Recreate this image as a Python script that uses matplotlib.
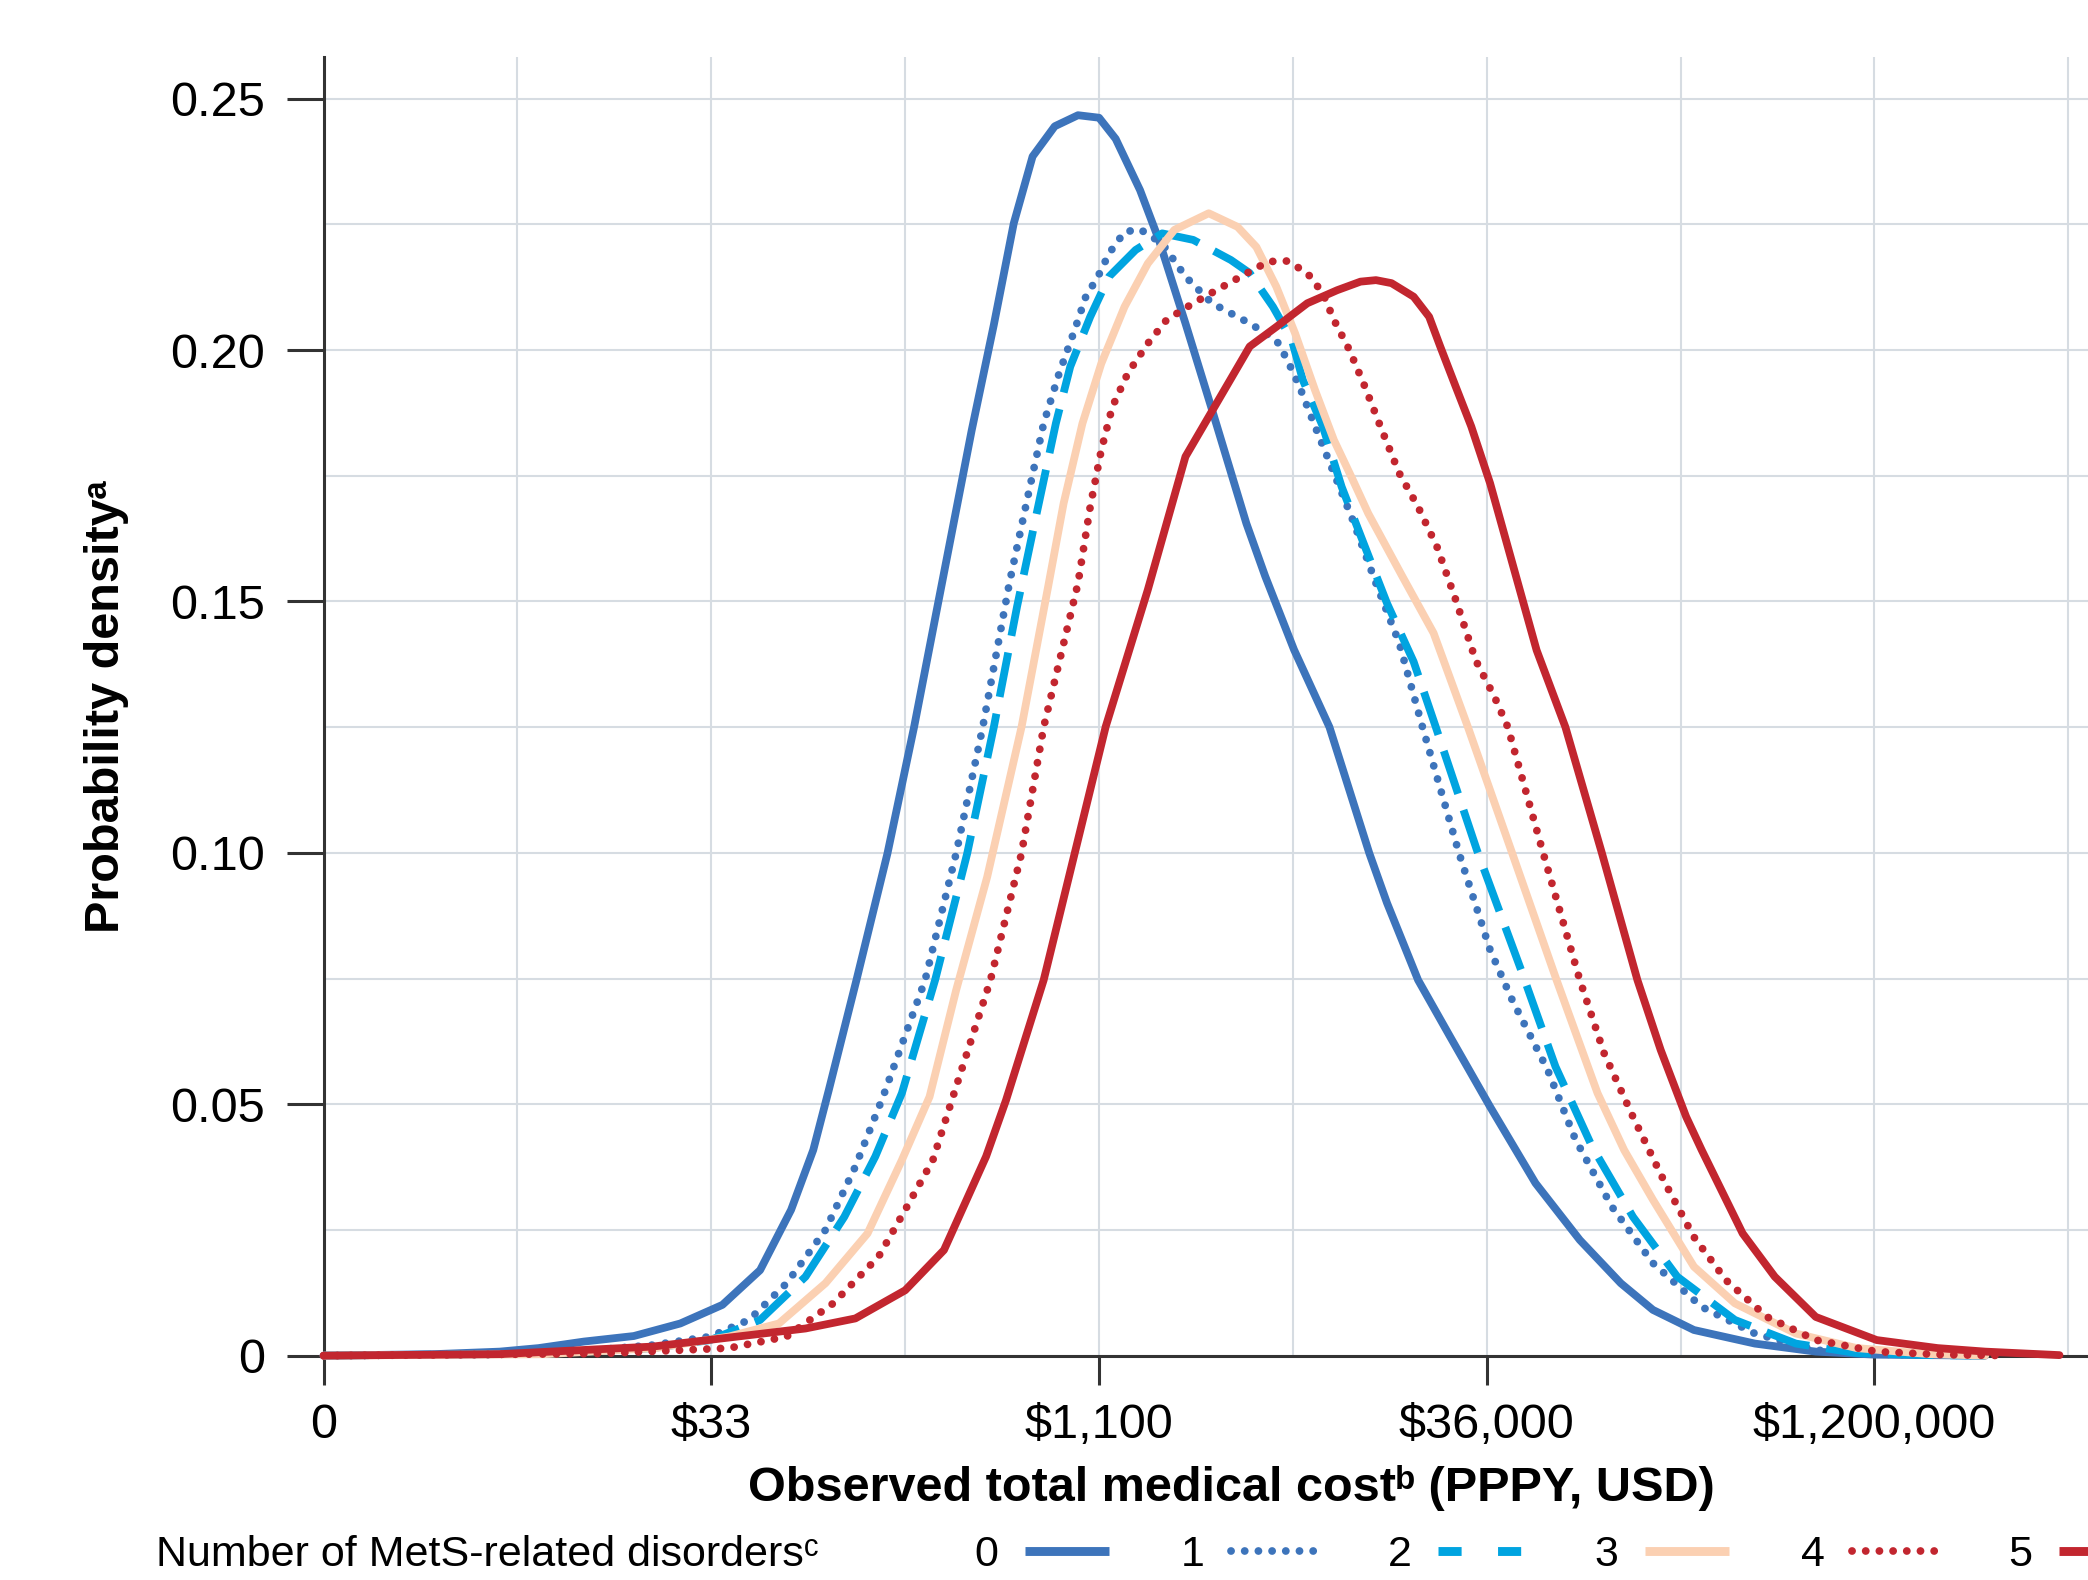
import matplotlib
matplotlib.use('Agg')
import matplotlib.pyplot as plt
from matplotlib.lines import Line2D
from matplotlib.ticker import FixedLocator

plt.rcParams['font.family'] = ['Liberation Sans', 'DejaVu Sans']

# x = ln(cost), y = density
x0 = [0, 1.0, 1.59, 1.94, 2.35, 2.8, 3.22, 3.6, 3.94, 4.22, 4.42, 4.56, 4.81, 5.09, 5.33, 5.55, 5.7, 5.85,
      6.05, 6.23, 6.4, 6.6, 6.81, 7.0, 7.15, 7.37, 7.54, 7.78, 8.02, 8.33, 8.5, 8.76, 9.08, 9.44, 9.6, 9.88,
      10.17, 10.53, 10.94, 11.34, 11.71, 12.0, 12.37, 12.92, 13.47, 14.0, 15.0]
y0 = [0, 0.0003, 0.0008, 0.0015, 0.0028, 0.0039, 0.0064, 0.0101, 0.017, 0.029, 0.0409, 0.0528, 0.0747, 0.0999,
      0.125, 0.150, 0.167, 0.184, 0.205, 0.2252, 0.2385, 0.2445, 0.2467, 0.2462, 0.242, 0.2318, 0.2219, 0.2053,
      0.1881, 0.1655, 0.155, 0.1404, 0.125, 0.0999, 0.09, 0.0747, 0.0634, 0.0495, 0.0343, 0.023, 0.0144, 0.0091,
      0.0051, 0.0024, 0.0008, 0.0002, 0]

x1 = [0, 1.5, 2.28, 2.97, 3.49, 3.84, 4.18, 4.53, 4.8, 5.05, 5.43, 5.71, 5.95, 6.19, 6.37, 6.5, 6.64, 6.78, 6.88,
      6.99, 7.09, 7.23, 7.37, 7.57, 7.78, 8.02, 8.36, 8.6, 8.7, 8.81, 8.95, 9.12, 9.29, 9.5, 9.71, 9.92, 10.25,
      10.53, 10.73, 11.05, 11.3, 11.63, 12.0, 12.44, 12.92, 13.47, 14.0, 15.0]
y1 = [0, 0.0002, 0.0008, 0.0021, 0.0038, 0.0071, 0.0144, 0.025, 0.0376, 0.0515, 0.0747, 0.0999, 0.125, 0.1536,
      0.1722, 0.1854, 0.1954, 0.204, 0.2106, 0.2146, 0.2192, 0.2235, 0.224, 0.2212, 0.2146, 0.2093, 0.2053,
      0.202, 0.198, 0.1927, 0.1848, 0.1755, 0.1662, 0.1536, 0.1417, 0.125, 0.0999, 0.0807, 0.0707, 0.0568,
      0.043, 0.0296, 0.0184, 0.0097, 0.0044, 0.0011, 0.0003, 0]

x2 = [0, 2.0, 2.97, 3.49, 3.94, 4.35, 4.7, 4.98, 5.22, 5.52, 5.81, 6.05, 6.26, 6.43, 6.61, 6.74, 6.92, 7.09, 7.33,
      7.57, 7.85, 8.19, 8.36, 8.57, 8.74, 8.84, 9.02, 9.19, 9.4, 9.6, 9.84, 10.04, 10.41, 10.81, 11.12, 11.45,
      11.82, 12.22, 12.74, 13.29, 13.84, 14.5, 15.0]
y2 = [0, 0.0004, 0.0015, 0.0031, 0.0071, 0.0157, 0.0276, 0.0396, 0.0522, 0.0747, 0.0999, 0.125, 0.149, 0.1668,
      0.1854, 0.1967, 0.2066, 0.2146, 0.2199, 0.2232, 0.2219, 0.2179, 0.2153, 0.2086, 0.202, 0.194, 0.1848,
      0.1728, 0.1609, 0.1496, 0.138, 0.125, 0.1006, 0.0767, 0.0575, 0.0416, 0.0276, 0.0157, 0.0071, 0.0024,
      0.0005, 0.0001, 0]

x3 = [0, 2.0, 3.0, 3.66, 4.11, 4.53, 4.91, 5.22, 5.47, 5.71, 5.99, 6.3, 6.54, 6.68, 6.85, 7.02, 7.23, 7.44, 7.68,
      7.99, 8.25, 8.42, 8.6, 8.77, 8.95, 9.12, 9.29, 9.43, 9.74, 10.02, 10.33, 10.73, 11.13, 11.5, 11.74, 12.0,
      12.37, 12.74, 13.29, 13.84, 14.5, 15.0]
y3 = [0, 0.0003, 0.0015, 0.0038, 0.0064, 0.0144, 0.0243, 0.0389, 0.0515, 0.0727, 0.0952, 0.125, 0.1529, 0.1695,
      0.1854, 0.1973, 0.2086, 0.2172, 0.2239, 0.2272, 0.2245, 0.2205, 0.2126, 0.2033, 0.192, 0.1821, 0.1742,
      0.1675, 0.1549, 0.1437, 0.125, 0.0999, 0.0747, 0.0522, 0.0409, 0.031, 0.0177, 0.0104, 0.0044, 0.0015,
      0.0003, 0]

x4 = [0, 2.5, 3.66, 4.18, 4.6, 5.01, 5.25, 5.5, 5.7, 6.02, 6.3, 6.5, 6.81, 6.92, 7.02, 7.12, 7.26, 7.44, 7.61,
      7.85, 8.06, 8.36, 8.53, 8.7, 8.88, 9.02, 9.12, 9.26, 9.4, 9.54, 9.71, 9.88, 10.05, 10.22, 10.4, 10.57,
      10.69, 11.01, 11.34, 11.56, 11.82, 12.11, 12.37, 12.66, 13.03, 13.47, 14.02, 14.6, 15.2]
y4 = [0, 0.0004, 0.0015, 0.0038, 0.0104, 0.0197, 0.029, 0.0389, 0.0528, 0.0747, 0.0999, 0.125, 0.1536, 0.1688,
      0.1801, 0.1887, 0.1954, 0.2013, 0.206, 0.2093, 0.2119, 0.2156, 0.2176, 0.2177, 0.2153, 0.2113, 0.206,
      0.2, 0.1927, 0.1848, 0.1755, 0.1688, 0.1609, 0.1503, 0.1383, 0.131, 0.125, 0.0999, 0.0747, 0.0601,
      0.0475, 0.0343, 0.0236, 0.015, 0.0077, 0.0031, 0.0008, 0.0002, 0]

x5 = [0, 1.59, 2.97, 3.66, 4.35, 4.8, 5.25, 5.6, 5.98, 6.16, 6.5, 6.78, 7.06, 7.44, 7.78, 8.36, 8.6, 8.88, 9.15,
      9.36, 9.5, 9.64, 9.84, 9.98, 10.08, 10.22, 10.36, 10.53, 10.95, 11.21, 11.54, 11.86, 12.07, 12.3, 12.44,
      12.81, 13.1, 13.47, 14.02, 14.57, 15.0, 15.67]
y5 = [0, 0.0003, 0.0018, 0.0036, 0.0054, 0.0074, 0.013, 0.021, 0.0396, 0.0508, 0.0747, 0.0999, 0.1251, 0.1523,
      0.1788, 0.2007, 0.2046, 0.2093, 0.2119, 0.2136, 0.2139, 0.2133, 0.2106, 0.2066, 0.2007, 0.1927, 0.1848,
      0.1735, 0.1403, 0.125, 0.0999, 0.0747, 0.0608, 0.0475, 0.0409, 0.0243, 0.0157, 0.0077, 0.0031, 0.0015,
      0.0008, 0.0001]

groups = ['0', '1', '2', '3', '4', '5']
x_ticks = [0, 3.5, 7, 10.5, 14]
x_ticklabels = ['0', '$33', '$1,100', '$36,000', '$1,200,000']
y_ticks = [0, 0.05, 0.10, 0.15, 0.20, 0.25]
y_ticklabels = ['0', '0.05', '0.10', '0.15', '0.20', '0.25']

blue = '#3d74bb'
cyan = '#00a4e0'
peach = '#fbd0b2'
red = '#c2262f'
dot = (0, (0.01, 1.75))
dash = (0, (5.8, 2.2))

fig = plt.figure(figsize=(20.88, 15.8), dpi=100)
ax = fig.add_axes([0.155, 0.142, 0.869, 0.822])

lw = 5.6
styles = [
    (x0, y0, blue, '-'),
    (x1, y1, blue, dot),
    (x2, y2, cyan, dash),
    (x3, y3, peach, '-'),
    (x4, y4, red, dot),
    (x5, y5, red, '-'),
]
for xs, ys, c, ls in styles:
    ax.plot(xs, ys, color=c, linestyle=ls, lw=lw, dash_capstyle='round' if ls == dot else 'butt',
            solid_capstyle='round', solid_joinstyle='round', dash_joinstyle='round',
            clip_on=False, zorder=3)

ax.set_xlim(0, 16.38)
ax.set_ylim(0, 0.2583)
ax.set_xticks(x_ticks)
ax.set_xticklabels(x_ticklabels)
ax.set_yticks(y_ticks)
ax.set_yticklabels(y_ticklabels)
ax.xaxis.set_minor_locator(FixedLocator([1.75, 5.25, 8.75, 12.25, 15.75]))
ax.yaxis.set_minor_locator(FixedLocator([0.025, 0.075, 0.125, 0.175, 0.225]))
ax.grid(True, which='both', color='#d6dce2', lw=1.5)
ax.set_axisbelow(True)

for s in ['top', 'right']:
    ax.spines[s].set_visible(False)
for s in ['left', 'bottom']:
    ax.spines[s].set_color('#333333')
    ax.spines[s].set_linewidth(2.2)

ax.tick_params(axis='x', which='major', length=21, width=2.2, color='#333333', pad=13, labelsize=35)
ax.tick_params(axis='y', which='major', length=27, width=2.2, color='#333333', pad=15, labelsize=35)
ax.tick_params(which='minor', length=0)

ax.set_xlabel('Observed total medical cost\u1d47 (PPPY, USD)', fontsize=35, fontweight='bold')
ax.xaxis.set_label_coords(0.5, -0.1016)
ax.xaxis.label.set_verticalalignment('center')
ax.set_ylabel('Probability density\u1d43', fontsize=35, fontweight='bold')
ax.yaxis.set_label_coords(-0.1196, 0.5)
ax.yaxis.label.set_verticalalignment('center')

fig.text(0.0749, 0.0158, 'Number of MetS-related disorders\u1d9c', fontsize=31, va='center', ha='left')

handles = [
    Line2D([], [], color=blue, lw=6.4, solid_capstyle='butt'),
    Line2D([], [], color=blue, lw=5.6, linestyle=(0, (0.01, 1.75)), dash_capstyle='round'),
    Line2D([], [], color=cyan, lw=6.4, linestyle=(0, (2.6, 4.1))),
    Line2D([], [], color=peach, lw=6.4, solid_capstyle='butt'),
    Line2D([], [], color=red, lw=5.6, linestyle=(0, (0.01, 1.75)), dash_capstyle='round'),
    Line2D([], [], color=red, lw=6.4, solid_capstyle='butt'),
]
fig.legend(handles, groups, ncol=6, markerfirst=False, loc='center left', bbox_to_anchor=(0.4665, 0.0158),
           frameon=False, fontsize=31, handlelength=1.95, handletextpad=0.62, columnspacing=1.68,
           borderpad=0, borderaxespad=0)

plt.savefig('out.png', dpi=100)
